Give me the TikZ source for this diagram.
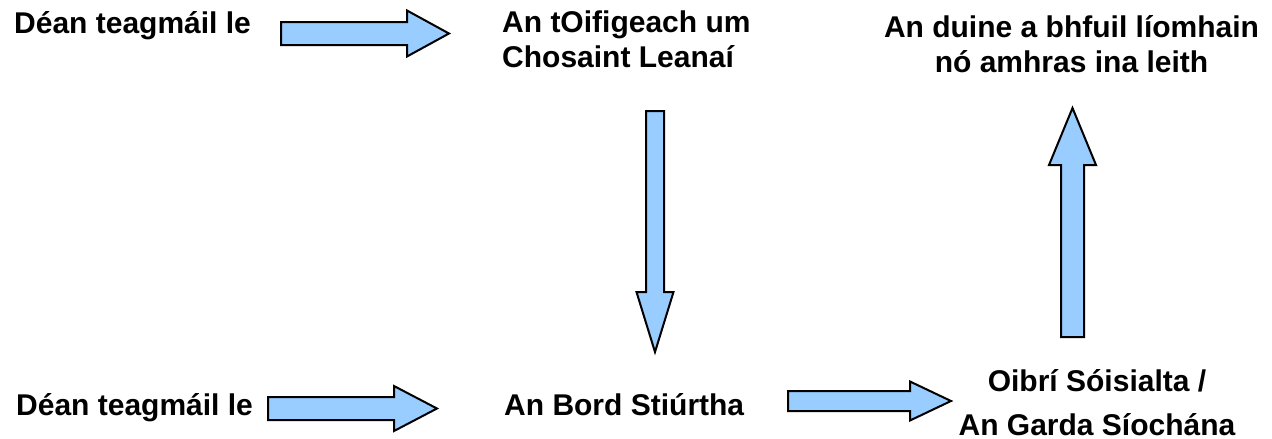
\documentclass[tikz,border=0pt]{standalone}
\usepackage{fontspec}
\setmainfont{Liberation Sans}
\definecolor{arrowblue}{HTML}{99CCFF}
\begin{document}
\begin{tikzpicture}[x=1pt,y=-1pt,
  lbl/.style={inner sep=0pt,font=\bfseries\fontsize{30}{35}\selectfont},
  blockarrow/.style={draw=black,fill=arrowblue,line width=2pt,line join=miter}]
\useasboundingbox (0,0) rectangle (1272,439);
% labels
\node[lbl,anchor=base west] (t1) at (14,33) {Déan teagmáil le};
\node[lbl,anchor=base west,align=left] (t2) at (502,67) {An tOifigeach um\\Chosaint Leanaí};
\node[lbl,anchor=base,align=center] (t3) at (1071.5,72) {An duine a bhfuil líomhain\\nó amhras ina leith};
\node[lbl,anchor=base west] (b1) at (16,415) {Déan teagmáil le};
\node[lbl,anchor=base west] (b2) at (504,415) {An Bord Stiúrtha};
\node[lbl,anchor=base,align=center] (b3) at (1097,435) {Oibrí Sóisialta /\\[9pt]An Garda Síochána};
% block arrows
\draw[blockarrow] (281,22) -- (407,22) -- (407,10.5) -- (449,33.5) -- (407,56.5) -- (407,45) -- (281,45) -- cycle;
\draw[blockarrow] (268,397) -- (394,397) -- (394,386) -- (437,408.5) -- (394,431) -- (394,420) -- (268,420) -- cycle;
\draw[blockarrow] (788,391) -- (910,391) -- (910,381.5) -- (951,401) -- (910,420.5) -- (910,411) -- (788,411) -- cycle;
\draw[blockarrow] (646,111) -- (664,111) -- (664,292) -- (673.5,292) -- (655,352) -- (636.5,292) -- (646,292) -- cycle;
\draw[blockarrow] (1061,337) -- (1084,337) -- (1084,165) -- (1096,165) -- (1072.5,108) -- (1049,165) -- (1061,165) -- cycle;
\end{tikzpicture}
\end{document}
